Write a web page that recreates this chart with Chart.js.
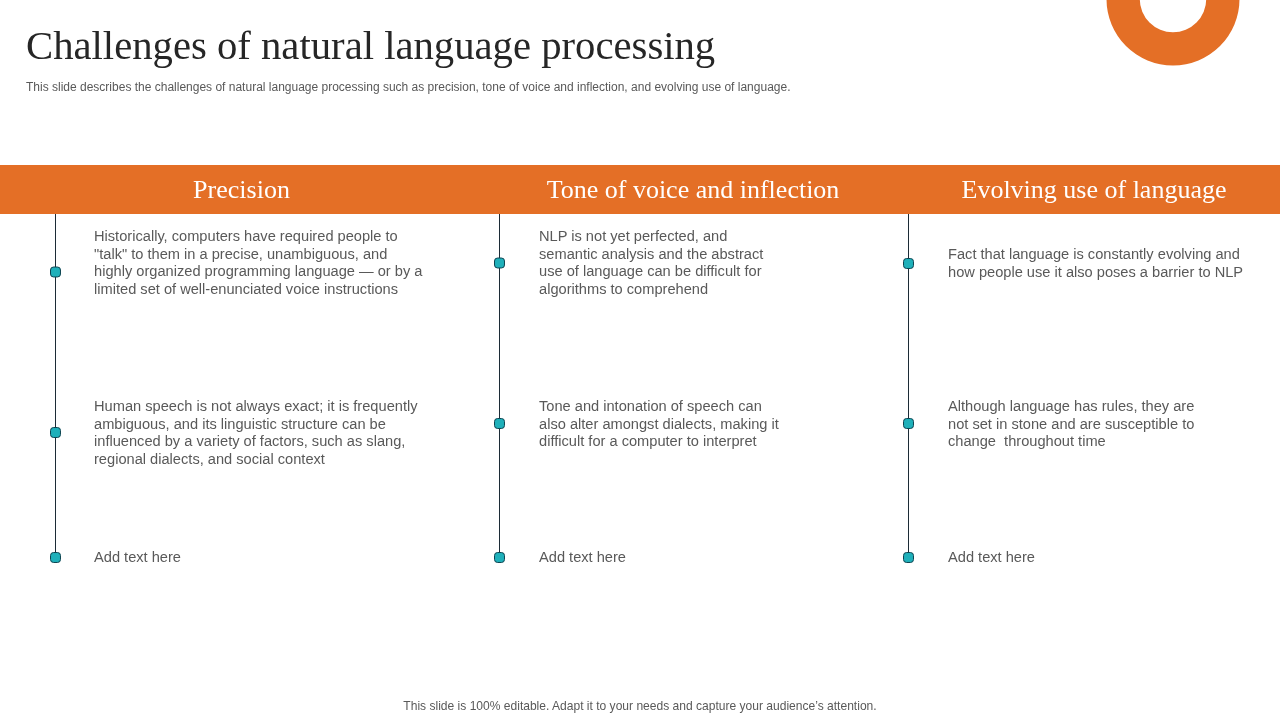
<!DOCTYPE html>
<html>
<head>
<meta charset="utf-8">
<title>Challenges of natural language processing</title>
<script src="https://cdn.jsdelivr.net/npm/chart.js@4"></script>
<style>
    html, body { margin: 0; padding: 0; background: #fff; overflow: hidden; }
    #slide { position: relative; width: 1280px; height: 720px; overflow: hidden; font-family: "Liberation Sans", Arial, sans-serif; color: #595959; }
    #slide > div { position: absolute; white-space: nowrap; }
    #timeline { position: absolute; left: 0; top: 0; }
    #ring { position: absolute; left: 1103px; top: -71px; }
    .title { left: 26px; top: 22px; font: 40.7px/48px "Liberation Serif", serif; color: #262626; }
    .sub { left: 26px; top: 80px; font-size: 12px; line-height: 14px; }
    .band { left: 0; top: 165px; width: 1280px; height: 49px; background: #e46f26; }
    .head { top: 175px; font: 26px/30px "Liberation Serif", serif; color: #fff; transform: translateX(-50%); }
    .body { font-size: 14.63px; line-height: 17.67px; }
    .foot { left: 640px; top: 699px; font-size: 12.05px; line-height: 14px; transform: translateX(-50%); }
</style>
</head>
<body>
<div id="slide">
    <div class="band"></div>
    <canvas id="timeline" width="1280" height="720"></canvas>
    <canvas id="ring" width="140" height="140"></canvas>
    <div class="title">Challenges of natural language processing</div>
    <div class="sub">This slide describes the challenges of natural language processing such as precision, tone of voice and inflection, and evolving use of language.</div>
    <div id="texts"></div>
    <div class="foot">This slide is 100% editable. Adapt it to your needs and capture your audience’s attention.</div>
</div>
<script>
const categories = ['Precision', 'Tone of voice and inflection', 'Evolving use of language'];
const headCenters = [241.5, 693, 1094];
const lineX = [55.5, 499.5, 908.5];
const lineTop = 214;
const precisionY = [272, 432.5, 557.5];
const toneY = [263, 423.5, 557.5];
const evolvingY = [263.5, 423.5, 557.5];
const markerY = [precisionY, toneY, evolvingY];

const precisionText = [
    ['Historically, computers have required people to', '"talk" to them in a precise, unambiguous, and', 'highly organized programming language — or by a', 'limited set of well-enunciated voice instructions'],
    ['Human speech is not always exact; it is frequently', 'ambiguous, and its linguistic structure can be', 'influenced by a variety of factors, such as slang,', 'regional dialects, and social context'],
    ['Add text here'],
];
const toneText = [
    ['NLP is not yet perfected, and', 'semantic analysis and the abstract', 'use of language can be difficult for', 'algorithms to comprehend'],
    ['Tone and intonation of speech can', 'also alter amongst dialects, making it', 'difficult for a computer to interpret'],
    ['Add text here'],
];
const evolvingText = [
    ['Fact that language is constantly evolving and', 'how people use it also poses a barrier to NLP'],
    ['Although language has rules, they are', 'not set in stone and are susceptible to', 'change  throughout time'],
    ['Add text here'],
];
const textX = [94, 539, 948];
const textTop = [[228, 398, 549], [228, 398, 549], [246, 398, 549]];

// Header labels and text blocks
const slide = document.getElementById('slide');
categories.forEach((c, i) => {
    const d = document.createElement('div');
    d.className = 'head';
    d.style.left = headCenters[i] + 'px';
    d.textContent = c;
    slide.appendChild(d);
});
[precisionText, toneText, evolvingText].forEach((col, i) => {
    col.forEach((lines, j) => {
        const d = document.createElement('div');
        d.className = 'body';
        d.style.left = textX[i] + 'px';
        d.style.top = textTop[i][j] + 'px';
        d.innerHTML = lines.join('<br>').replace(/  /g, ' &nbsp;');
        slide.appendChild(d);
    });
});

// Timelines: one scatter dataset per column, on scales that span the slide
new Chart(document.getElementById('timeline'), {
    type: 'scatter',
    data: {
        datasets: categories.map((c, i) => ({
            label: c,
            data: [lineTop, ...markerY[i]].map(y => ({ x: lineX[i], y })),
            showLine: true,
            borderColor: '#1c2b36',
            borderWidth: 1,
            pointStyle: 'rectRounded',
            pointRadius: [0, 5.8, 5.8, 5.8],
            pointBackgroundColor: '#1fb0ba',
            pointBorderColor: '#0d4350',
            pointBorderWidth: 1,
        })),
    },
    options: {
        responsive: false,
        animation: false,
        layout: { padding: 0, autoPadding: false },
        plugins: { legend: { display: false }, tooltip: { enabled: false } },
        scales: {
            x: { display: false, min: 0, max: 1280 },
            y: { display: false, min: 0, max: 720, reverse: true },
        },
    },
});

// Decorative ring clipped by the top edge
new Chart(document.getElementById('ring'), {
    type: 'doughnut',
    data: { datasets: [{ data: [1], backgroundColor: '#e46f26', borderWidth: 0 }] },
    options: {
        responsive: false,
        animation: false,
        cutout: '50%',
        layout: { padding: 3.5, autoPadding: false },
        plugins: { legend: { display: false }, tooltip: { enabled: false } },
    },
});
</script>
</body>
</html>
